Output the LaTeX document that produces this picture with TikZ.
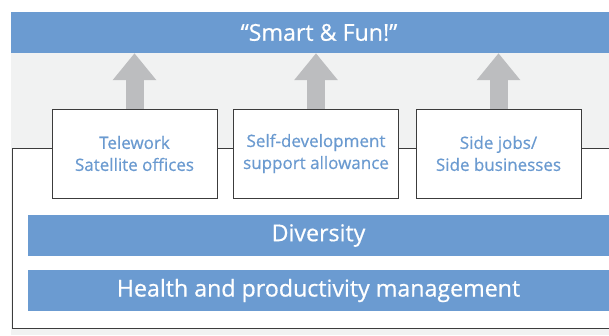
\documentclass[tikz,border=0pt]{standalone}
\usepackage{fontspec}
\setsansfont{Open Sans}[FakeBold=0.6]
\usepackage{tikz}
\usetikzlibrary{arrows.meta}
\usepackage{xcolor}
\definecolor{barblue}{HTML}{6B9BD1}
\definecolor{textblue}{HTML}{6A9AD0}
\definecolor{arrowgray}{HTML}{BCBDBF}
\definecolor{bggray}{HTML}{F1F2F2}
\definecolor{linegray}{HTML}{3C3C3C}

\begin{document}
\begin{tikzpicture}[x=1pt, y=-1pt,
    bar/.style = {rectangle, fill=barblue, text=white, font=\sffamily\fontsize{23.2}{26}\selectfont, minimum height=41pt, inner sep=0pt},
    measure/.style = {rectangle, draw=linegray, fill=white, line width=0.8pt, align=center, text=textblue, font=\sffamily\fontsize{17}{22}\selectfont, minimum width=165pt, minimum height=89pt, inner sep=0pt},
    uparrow/.style = {draw=arrowgray, line width=18pt, -{Triangle[width=42pt, length=27pt]}}
]
\useasboundingbox (0,0) rectangle (609,335);
\clip (0,0) rectangle (609,335);

% Background: pale gray panel with the white frame on it
\fill[bggray] (11,53) rectangle (609,335);
\fill[white] (12,148) rectangle (609,328);
\draw[linegray, line width=0.8pt] (609,148) -- (12,148) -- (12,328) -- (609,328);

% Top band
\node (goal) [bar, minimum width=616pt] at (319,32.5) {“Smart \& Fun!”};

% Row of measures (y = 153.5)
\node (telework) [measure] at (134.5,153.5) {Telework\\Satellite offices};
\node (selfdev) [measure] at (316,153.5) {Self-development\\support allowance};
\node (sidejobs) [measure] at (498.5,153.5) {Side jobs/\\Side businesses};

% Foundation bars
\node (diversity) [bar, minimum width=581pt] at (318.5,235.5) {Diversity};
\node (health) [bar, minimum width=581pt] at (318.5,290.5) {Health and productivity management};

% Arrows up into the band
\foreach \m in {telework, selfdev, sidejobs}
  \draw [uparrow] (\m.north) -- (\m.north |- goal.south);

\end{tikzpicture}
\end{document}
